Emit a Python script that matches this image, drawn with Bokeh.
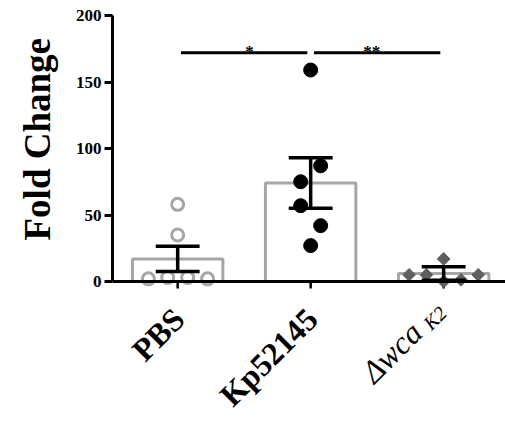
import numpy as np
from bokeh.plotting import figure
from bokeh.models import Range1d, FixedTicker, ColumnDataSource, Span, Title, Label
from bokeh.embed import file_html
from bokeh.resources import INLINE
from bokeh.core.properties import value

# ---- data ----
groups = ["PBS", "Kp52145", "\u0394wca"]
group_subscripts = ["", "", "K2"]
means = [17, 74, 6]
sems = [9.5, 19, 5]
pbs_vals = [58, 35, 2, 3, 3, 2]
kp_vals = [159, 87, 75, 57, 42, 27]
wca_vals = [17, 5, 5, 5, 0, 1.3]
y_ticks = [0, 50, 100, 150, 200]
comparisons = [(0, 1, "*"), (1, 2, "**")]
sig_level = 172

# ---- point layout (horizontal spread inside each group, in category widths) ----
pbs_dx = [0, 0, -0.22, -0.075, 0.075, 0.225]
kp_dx = [0, 0.075, -0.075, -0.075, 0.075, 0]
wca_dx = [0, -0.26, -0.13, 0.26, 0, 0.13]
star_nudge = [0.04, -0.04]

SERIF = "Liberation Serif"
GRAY = "#a6a6a6"
DARK = "#5f5f5f"

PX = 1.33                   # px per unit on both axes
CAT = 100                   # x units between two categories (133 px)
FW, FH = 393, 407           # frame size in px
BL, BT = 107, 15            # left / top borders
Y1 = 200
Y0 = Y1 - FH / PX
X0 = -0.49 * CAT
X1 = X0 + FW / PX

p = figure(frame_width=FW, frame_height=FH, output_backend="svg",
           toolbar_location=None,
           x_range=Range1d(X0, X1), y_range=Range1d(Y0, Y1),
           min_border_left=BL, min_border_right=0, min_border_top=BT,
           min_border_bottom=0)
p.outline_line_color = None
p.grid.visible = False
p.xaxis.visible = False

cx = [i * CAT for i in range(len(groups))]

# bars
p.vbar(x=cx, top=means, bottom=0, width=0.68 * CAT, fill_color=None,
       line_color=GRAY, line_width=3)

# x axis baseline and ticks
p.add_layout(Span(location=0, dimension="width", line_color="black", line_width=3))
p.segment(x0=cx, y0=[0] * len(cx), x1=cx, y1=[-7 / PX] * len(cx),
          line_color="black", line_width=2.5)

# points
p.scatter(x=[cx[0] + d * CAT for d in pbs_dx], y=pbs_vals, marker="circle", size=12,
          fill_color=None, line_color=GRAY, line_width=3)
p.scatter(x=[cx[1] + d * CAT for d in kp_dx], y=kp_vals, marker="circle", size=14,
          fill_color="black", line_color="black")
p.scatter(x=[cx[2] + d * CAT for d in wca_dx], y=wca_vals, marker="square", size=9,
          angle=np.pi / 4, fill_color=DARK, line_color=DARK)

# error bars (mean +/- SEM)
lo = [m - s for m, s in zip(means, sems)]
hi = [m + s for m, s in zip(means, sems)]
cap = 0.165 * CAT
p.segment(x0=cx, y0=lo, x1=cx, y1=hi, line_color="black", line_width=3.5)
p.segment(x0=[x - cap for x in cx], y0=hi, x1=[x + cap for x in cx], y1=hi,
          line_color="black", line_width=3.5)
p.segment(x0=[x - cap for x in cx], y0=lo, x1=[x + cap for x in cx], y1=lo,
          line_color="black", line_width=3.5)

# significance bars
gap = 0.025 * CAT
p.segment(x0=[cx[a] + gap for a, b, s in comparisons], y0=[sig_level] * len(comparisons),
          x1=[cx[b] - gap for a, b, s in comparisons], y1=[sig_level] * len(comparisons),
          line_color="black", line_width=3)
star_src = ColumnDataSource(dict(
    x=[(cx[a] + cx[b]) / 2 + n * CAT for (a, b, s), n in zip(comparisons, star_nudge)],
    y=[sig_level + 1 / PX] * len(comparisons),
    t=[s for a, b, s in comparisons]))
p.text(x="x", y="y", text="t", source=star_src, text_align="center",
       text_baseline="alphabetic", text_font=value(SERIF), text_font_style="bold",
       text_font_size="17px", text_color="black")

# y axis
p.yaxis.ticker = FixedTicker(ticks=y_ticks)
p.yaxis.bounds = (0, 200)
p.yaxis.axis_line_width = 3
p.yaxis.major_tick_line_width = 3
p.yaxis.major_tick_out = 8
p.yaxis.major_tick_in = 0
p.yaxis.minor_tick_line_color = None
p.yaxis.major_label_text_font = SERIF
p.yaxis.major_label_text_font_style = "bold"
p.yaxis.major_label_text_font_size = "17px"
p.yaxis.major_label_text_color = "black"
p.yaxis.major_label_standoff = 3

# y title
p.add_layout(Title(text="Fold Change", align="left", offset=182, standoff=29,
                   text_font=SERIF, text_font_style="bold", text_font_size="37px",
                   text_color="black"), "left")

# rotated category labels, anchored at their start (left / bottom)
C45 = np.cos(np.pi / 4)


def cat_label(x, end_dx, end_dy, length_em, text, style, size_px):
    L = length_em * size_px           # approximate text length in px
    d = 0.22 * size_px                # descent below the baseline
    ax = end_dx - C45 * L + C45 * d
    ay = -end_dy - C45 * L - C45 * d
    p.add_layout(Label(x=x + ax / PX, y=ay / PX, text=text, angle=np.pi / 4,
                       text_font=SERIF, text_font_style=style,
                       text_font_size="%dpx" % size_px, text_color="black"))


label_em = {"PBS": 1.834, "Kp52145": 3.834, "\u0394wca": 2.22, "K2": 1.167}
for i, (g, sub) in enumerate(zip(groups, group_subscripts)):
    if not sub:
        cat_label(cx[i], 9, 40, label_em[g], g, "bold", 32)
    else:
        cat_label(cx[i], 4, 33, label_em[sub], sub, "italic", 20)
        cat_label(cx[i], -19, 53, label_em[g], g, "italic", 32)

open("out.html", "w").write(file_html(p, INLINE))
